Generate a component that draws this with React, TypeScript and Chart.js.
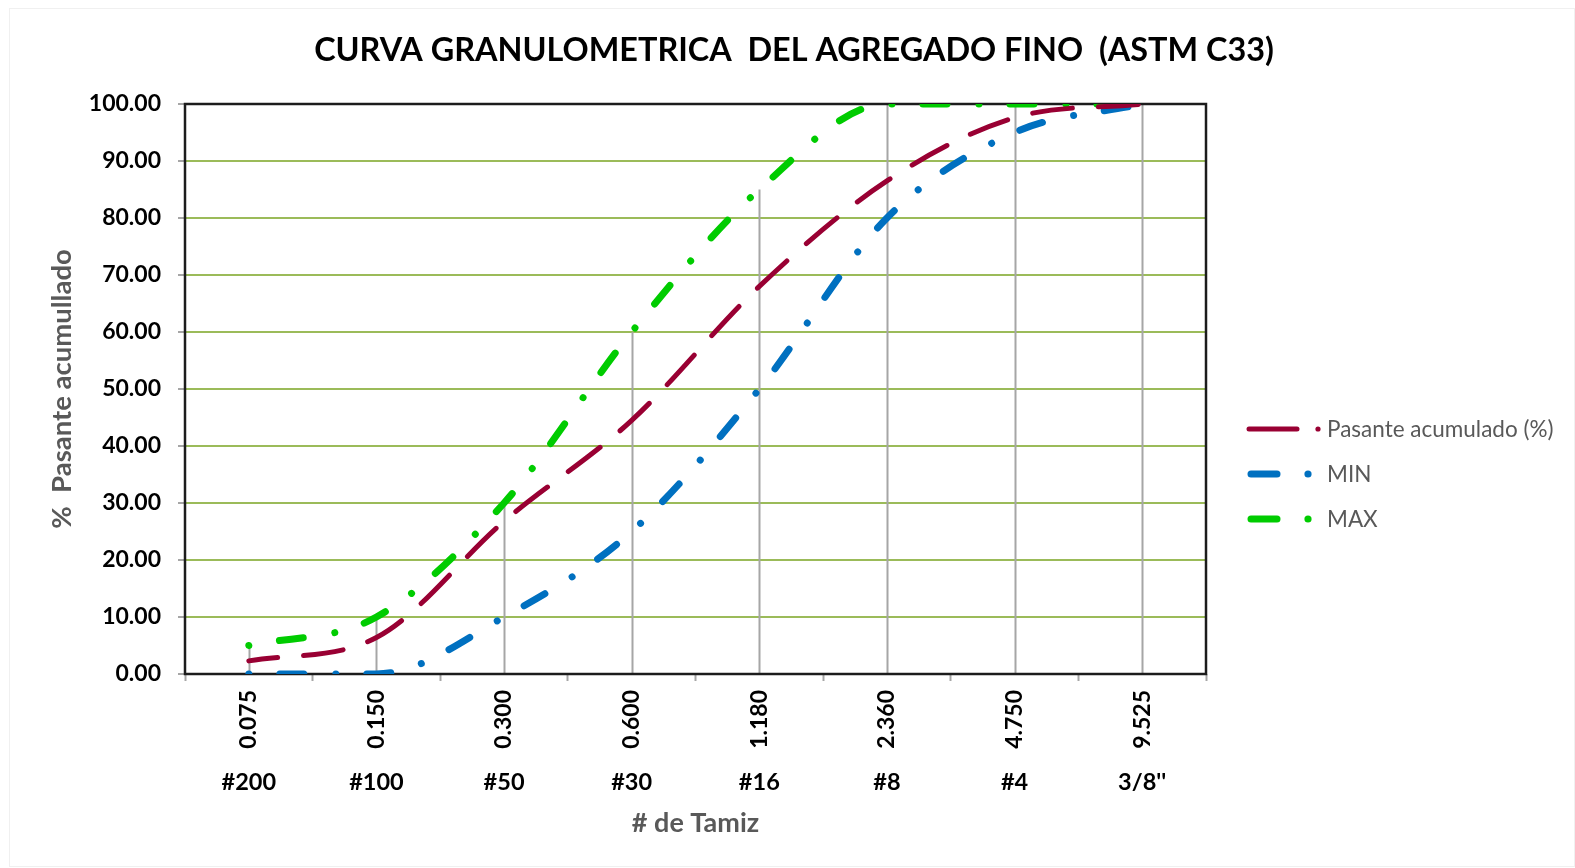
import React, { useEffect, useRef } from 'react';
import { Chart, registerables } from 'chart.js';

Chart.register(...registerables);

// ---- data ----
const sieveSizes = ['0.075', '0.150', '0.300', '0.600', '1.180', '2.360', '4.750', '9.525'];
const sieveNames = ['#200', '#100', '#50', '#30', '#16', '#8', '#4', '3/8\'\''];
const pasante = [2.3, 6.4, 26.8, 44.5, 68.0, 86.5, 97.6, 100];
const minLimit = [0, 0, 10, 25, 50, 80, 95, 100];
const maxLimit = [5, 10, 30, 60, 85, 100, 100, 100];

const chartTitle = 'CURVA GRANULOMETRICA  DEL AGREGADO FINO  (ASTM C33)';
const yTitle = '%  Pasante acumullado';
const xTitle = '# de Tamiz';

const FONT = 'Lato, "Open Sans", "DejaVu Sans", sans-serif';
const RED = '#990033';
const BLUE = '#0070C0';
const GREEN = '#00CC00';

const legendStyles = [
  { dashFrom: 1249, dashTo: 1297, dotX: 1318, dotR: 2.6, width: 5, y: 429 },
  { dashFrom: 1251, dashTo: 1277, dotX: 1308, dotR: 3.6, width: 7, y: 474 },
  { dashFrom: 1251, dashTo: 1277, dotX: 1308, dotR: 3.6, width: 7, y: 519 },
];

const decorPlugin = {
  id: 'decor',
  beforeDatasetsDraw(chart: any) {
    const { ctx, chartArea: a, scales } = chart;
    const x = scales.x;
    const y = scales.y;
    ctx.save();
    // drop lines from the highest series value to the axis
    ctx.strokeStyle = '#A6A6A6';
    ctx.lineWidth = 2;
    const n = chart.data.labels.length;
    for (let i = 0; i < n; i++) {
      const top = Math.max(...chart.data.datasets.map((d: any) => d.data[i]));
      const px = Math.round(x.getPixelForValue(i)) + 0.5;
      ctx.beginPath();
      ctx.moveTo(px, y.getPixelForValue(0));
      ctx.lineTo(px, y.getPixelForValue(top));
      ctx.stroke();
    }
    // plot-area frame
    ctx.strokeStyle = '#1c1c1c';
    ctx.lineWidth = 2.5;
    ctx.strokeRect(a.left, a.top, a.right - a.left, a.bottom - a.top);
    ctx.restore();
  },
  afterDraw(chart: any) {
    const { ctx } = chart;
    ctx.save();
    // faint chart-area border
    ctx.strokeStyle = '#F0F0F0';
    ctx.lineWidth = 1;
    ctx.strokeRect(9.5, 8.5, 1575 - 10, 868 - 10);
    // title
    ctx.fillStyle = '#000000';
    ctx.font = `bold 32.4px ${FONT}`;
    ctx.textAlign = 'center';
    ctx.textBaseline = 'middle';
    ctx.fillText(chartTitle, 794, 51);
    // legend
    ctx.textAlign = 'left';
    ctx.font = `22.5px ${FONT}`;
    chart.data.datasets.forEach((ds: any, i: number) => {
      const s = legendStyles[i];
      ctx.strokeStyle = ds.borderColor;
      ctx.fillStyle = ds.borderColor;
      ctx.lineWidth = s.width;
      ctx.lineCap = 'round';
      ctx.beginPath();
      ctx.moveTo(s.dashFrom, s.y);
      ctx.lineTo(s.dashTo, s.y);
      ctx.stroke();
      ctx.beginPath();
      ctx.arc(s.dotX, s.y, s.dotR, 0, Math.PI * 2);
      ctx.fill();
      ctx.fillStyle = '#595959';
      ctx.fillText(ds.label, 1327, s.y + 1);
    });
    ctx.restore();
  },
};

export default function App() {
  const canvasRef = useRef<HTMLCanvasElement | null>(null);

  useEffect(() => {
    if (!canvasRef.current) return;
    const chart = new Chart(canvasRef.current, {
      type: 'line',
      data: {
        labels: sieveSizes,
        datasets: [
          {
            label: 'Pasante acumulado (%)',
            data: pasante,
            borderColor: RED,
            backgroundColor: RED,
            borderWidth: 5,
            borderCapStyle: 'round',
            borderDash: [40, 26],
            borderDashOffset: 11,
            pointRadius: 0,
            cubicInterpolationMode: 'monotone',
            fill: false,
          },
          {
            label: 'MIN',
            data: minLimit,
            borderColor: BLUE,
            backgroundColor: BLUE,
            borderWidth: 7,
            borderCapStyle: 'round',
            borderDash: [0.01, 31, 24, 32],
            pointRadius: 0,
            cubicInterpolationMode: 'monotone',
            fill: false,
          },
          {
            label: 'MAX',
            data: maxLimit,
            borderColor: GREEN,
            backgroundColor: GREEN,
            borderWidth: 7,
            borderCapStyle: 'round',
            borderDash: [0.01, 31, 24, 32],
            pointRadius: 0,
            cubicInterpolationMode: 'monotone',
            fill: false,
          },
        ],
      },
      options: {
        animation: false,
        responsive: false,
        devicePixelRatio: 1,
        layout: { padding: { top: 104, left: 0, right: 369, bottom: 0 } },
        plugins: {
          legend: { display: false },
          tooltip: { enabled: false },
          title: { display: false },
        },
        scales: {
          x: {
            type: 'category',
            position: 'bottom',
            offset: true,
            weight: 1,
            grid: {
              offset: true,
              drawOnChartArea: false,
              drawTicks: true,
              tickLength: 7,
              tickColor: '#A6A6A6',
              tickWidth: 2,
            },
            border: { display: false },
            ticks: {
              minRotation: 90,
              maxRotation: 90,
              autoSkip: false,
              padding: 9,
              color: '#000000',
              font: { family: FONT, size: 23, weight: 'bold' },
            },
            afterFit: (s: any) => {
              s.height = 80;
            },
          },
          x2: {
            type: 'category',
            position: 'bottom',
            labels: sieveNames,
            offset: true,
            weight: 2,
            grid: { display: false, drawTicks: false },
            border: { display: false },
            ticks: {
              minRotation: 0,
              maxRotation: 0,
              autoSkip: false,
              padding: 14,
              color: '#000000',
              font: { family: FONT, size: 23.5, weight: 'bold' },
            },
            title: {
              display: true,
              text: xTitle,
              color: '#595959',
              font: { family: FONT, size: 27, weight: 'bold' },
              padding: { top: 0, bottom: 29 },
            },
            afterFit: (s: any) => {
              s.height = 114;
            },
          },
          y: {
            min: 0,
            max: 100,
            ticks: {
              stepSize: 10,
              padding: 17,
              color: '#000000',
              font: { family: FONT, size: 23, weight: 'bold' },
              callback: (v: any) => Number(v).toFixed(2),
            },
            grid: {
              color: '#9BBB59',
              lineWidth: 2,
              tickColor: '#A6A6A6',
              tickLength: 7,
            },
            border: { display: false },
            title: {
              display: true,
              text: yTitle,
              color: '#595959',
              font: { family: FONT, size: 27.5, weight: 'bold' },
              padding: { top: 46, bottom: 0 },
            },
            afterFit: (s: any) => {
              s.width = 185;
            },
          },
        },
      },
      plugins: [decorPlugin],
    } as any);
    return () => chart.destroy();
  }, []);

  return (
    <div style={{ position: 'absolute', left: 0, top: 0, width: 1575, height: 868, background: '#ffffff' }}>
      <canvas ref={canvasRef} width={1575} height={868} />
    </div>
  );
}
